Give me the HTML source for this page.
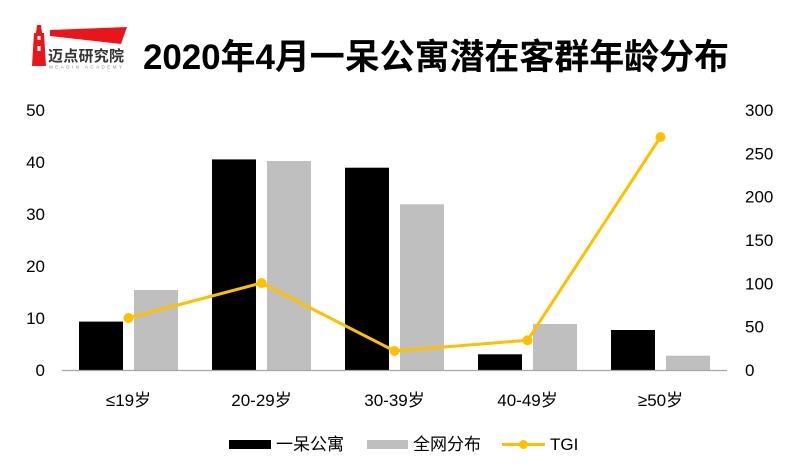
<!DOCTYPE html>
<html><head><meta charset="utf-8"><style>
html,body{margin:0;padding:0;background:#fff;}
svg{display:block;}
text{font-family:"Liberation Sans","Noto Sans CJK SC",sans-serif;}
</style></head><body>
<svg width="800" height="476" viewBox="0 0 800 476" xmlns="http://www.w3.org/2000/svg">
<rect width="800" height="476" fill="#fff"/>
<!-- logo -->
<polygon points="37,25 41,25 42,33 44,33 46,66 32,66 34,33 36,33" fill="#e8161b"/>
<rect x="37.5" y="36" width="3" height="4" fill="#fff"/>
<rect x="37.5" y="46" width="3" height="5" fill="#fff"/>
<polygon points="50,30 127,27 121,44 50,36" fill="#e8161b"/>
<text x="48" y="61" font-size="15" font-weight="bold" fill="#333" style="font-family:'Noto Sans CJK SC',sans-serif" textLength="76">迈点研究院</text>
<text x="49" y="68.5" font-size="4.5" fill="#888" textLength="75" letter-spacing="2">MEADIN ACADEMY</text>
<!-- title -->
<text x="143" y="69" font-size="35" font-weight="bold" fill="#000" textLength="586">2020年4月一呆公寓潜在客群年龄分布</text>

<!-- bars black -->
<g fill="#000">
<rect x="79" y="321.6" width="44" height="48.4"/>
<rect x="212" y="159.4" width="44" height="210.6"/>
<rect x="345" y="167.7" width="44" height="202.3"/>
<rect x="478" y="354.3" width="44" height="15.7"/>
<rect x="611" y="330" width="44" height="40"/>
</g>
<g fill="#bfbfbf">
<rect x="134" y="290" width="44" height="80"/>
<rect x="267" y="161" width="44" height="209"/>
<rect x="400" y="204.3" width="44" height="165.7"/>
<rect x="533" y="324" width="44" height="46"/>
<rect x="666" y="355.7" width="44" height="14.3"/>
</g>
<!-- axis -->
<line x1="62" y1="370.5" x2="727" y2="370.5" stroke="#a6a6a6" stroke-width="1.3"/>
<!-- TGI -->
<polyline points="128.5,318 261.5,283 394.5,351 527.5,340.3 660.5,137" fill="none" stroke="#ffc000" stroke-width="3" stroke-linejoin="round"/>
<g fill="#ffc000">
<circle cx="128.5" cy="318" r="5"/>
<circle cx="261.5" cy="283" r="5"/>
<circle cx="394.5" cy="351" r="5"/>
<circle cx="527.5" cy="340.3" r="5"/>
<circle cx="660.5" cy="137" r="5"/>
</g>
<!-- left axis labels -->
<g font-size="17" fill="#000" text-anchor="end">
<text x="45" y="376">0</text>
<text x="45" y="324">10</text>
<text x="45" y="272">20</text>
<text x="45" y="220">30</text>
<text x="45" y="168">40</text>
<text x="45" y="116">50</text>
</g>
<g font-size="17" fill="#000" text-anchor="start">
<text x="745" y="376">0</text>
<text x="745" y="332.7">50</text>
<text x="745" y="289.3">100</text>
<text x="745" y="246">150</text>
<text x="745" y="202.7">200</text>
<text x="745" y="159.3">250</text>
<text x="745" y="116">300</text>
</g>
<!-- x labels -->
<g font-size="17" fill="#000" text-anchor="middle">
<text x="128.5" y="406">≤19岁</text>
<text x="261.5" y="406">20-29岁</text>
<text x="394.5" y="406">30-39岁</text>
<text x="527.5" y="406">40-49岁</text>
<text x="660.5" y="406">≥50岁</text>
</g>
<!-- legend -->
<rect x="229" y="440" width="42" height="9" fill="#000"/>
<text x="276" y="450" font-size="17" fill="#000">一呆公寓</text>
<rect x="367" y="440" width="41" height="9" fill="#bfbfbf"/>
<text x="413" y="450" font-size="17" fill="#000">全网分布</text>
<line x1="502" y1="444.5" x2="545" y2="444.5" stroke="#ffc000" stroke-width="3"/>
<circle cx="523.5" cy="444.5" r="4.5" fill="#ffc000"/>
<text x="550" y="450" font-size="17" fill="#000">TGI</text>
</svg>
</body></html>
